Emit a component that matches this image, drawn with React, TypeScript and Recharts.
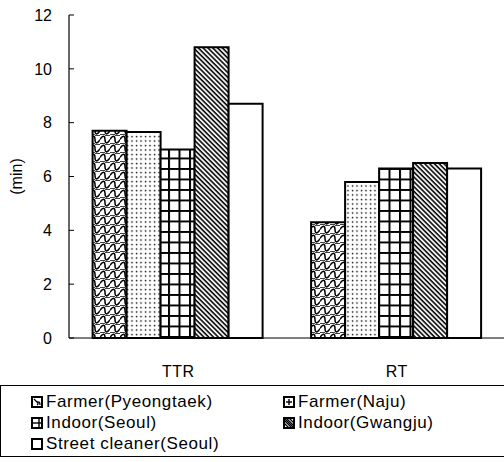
import React from "react";
import { BarChart, Bar, XAxis, YAxis, Legend } from "recharts";

// Measured times (min) per group
const categories = ["TTR", "RT"];
const farmerPyeongtaek = [7.7, 4.3];
const farmerNaju = [7.65, 5.8];
const indoorSeoul = [7.0, 6.3];
const indoorGwangju = [10.8, 6.5];
const streetCleanerSeoul = [8.7, 6.3];
const yTicks = [0, 2, 4, 6, 8, 10, 12];

const seriesInfo = [
  { key: "farmerPyeongtaek", name: "Farmer(Pyeongtaek)", fill: "url(#pWeave)" },
  { key: "farmerNaju", name: "Farmer(Naju)", fill: "url(#pDots)" },
  { key: "indoorSeoul", name: "Indoor(Seoul)", fill: "url(#pGrid)" },
  { key: "indoorGwangju", name: "Indoor(Gwangju)", fill: "url(#pHatch)" },
  { key: "streetCleanerSeoul", name: "Street cleaner(Seoul)", fill: "#fff" },
];

const data = categories.map((c, i) => ({
  category: c,
  farmerPyeongtaek: farmerPyeongtaek[i],
  farmerNaju: farmerNaju[i],
  indoorSeoul: indoorSeoul[i],
  indoorGwangju: indoorGwangju[i],
  streetCleanerSeoul: streetCleanerSeoul[i],
}));

const FONT = "'Liberation Sans', Arial, Helvetica, sans-serif";

const YTick = (props: any) => {
  const { x, y, payload } = props;
  return (
    <g>
      <line x1={x} x2={x + 5} y1={y} y2={y} stroke="#000" strokeWidth={1} />
      <text x={x - 17} y={y} dy="0.36em" textAnchor="end" fontSize={16} fontFamily={FONT} fill="#000">
        {payload.value}
      </text>
    </g>
  );
};

const XTick = (props: any) => {
  const { x, y, payload } = props;
  return (
    <text x={x} y={y + 39} textAnchor="middle" fontSize={16} fontFamily={FONT} fill="#000" letterSpacing={0.5}>
      {payload.value}
    </text>
  );
};

// Small legend swatches, one glyph per series
const LegendIcon = ({ index }: { index: number }) => {
  const marks: Record<number, React.ReactNode> = {
    0: <path d="M3,3 L6,6 Q8,8 6,9 M6,6 Q9,5 9,9" fill="none" stroke="#000" strokeWidth={1.3} />,
    1: (
      <g fill="#000">
        <rect x={5.3} y={3} width={1.4} height={6} />
        <rect x={3} y={5.3} width={6} height={1.4} />
      </g>
    ),
    2: (
      <g stroke="#000" strokeWidth={1.4}>
        <line x1={1} y1={6} x2={11} y2={6} />
        <line x1={8} y1={1} x2={8} y2={11} />
      </g>
    ),
    3: (
      <g stroke="#000" strokeWidth={1.2}>
        <line x1={1} y1={3} x2={9} y2={11} />
        <line x1={1} y1={6} x2={6} y2={11} />
        <line x1={3} y1={1} x2={11} y2={9} />
        <line x1={6} y1={1} x2={11} y2={6} />
        <line x1={1} y1={1} x2={11} y2={11} />
      </g>
    ),
  };
  return (
    <svg width={12} height={12} style={{ marginRight: 3, flex: "none" }}>
      <rect x={1} y={1} width={10} height={10} fill="#fff" stroke="#000" strokeWidth={2} />
      {marks[index]}
    </svg>
  );
};

const legendPos = [
  { left: 30, top: 16 },
  { left: 282, top: 16 },
  { left: 30, top: 37 },
  { left: 282, top: 37 },
  { left: 30, top: 58 },
];

const LegendBox = () => (
  <div
    style={{
      position: "relative",
      width: 504,
      height: 72,
      borderTop: "1px solid #000",
      borderBottom: "1px solid #000",
      borderLeft: "1px solid #000",
      boxSizing: "border-box",
      fontFamily: FONT,
    }}
  >
    {seriesInfo.map((s, i) => (
      <div
        key={s.key}
        style={{
          position: "absolute",
          left: legendPos[i].left,
          top: legendPos[i].top - 10,
          height: 20,
          display: "flex",
          alignItems: "center",
          whiteSpace: "nowrap",
        }}
      >
        <LegendIcon index={i} />
        <span style={{ fontSize: 17, letterSpacing: 0.6, color: "#000" }}>{s.name}</span>
      </div>
    ))}
  </div>
);

export default function App() {
  return (
    <div style={{ width: 504, height: 462, background: "#fff" }}>
      <style>{`body{margin:0;background:#fff}`}</style>
      <BarChart
        width={504}
        height={462}
        data={data}
        margin={{ top: 15, right: -2, bottom: 0, left: 0 }}
        barCategoryGap="10.8%"
        barGap={0}
      >
        <defs>
          <pattern id="pWeave" width="10" height="9" patternUnits="userSpaceOnUse">
            <rect width="10" height="9" fill="#fff" />
            <path d="M0,4.5 C2.5,0 5,0 5,4.5 C5,9 7.5,9 10,4.5" fill="none" stroke="#000" strokeWidth="1.5" />
            <path d="M5,0 L10,0 M0,9 L5,9" fill="none" stroke="#000" strokeWidth="1.4" />
          </pattern>
          <pattern id="pDots" width="4.5" height="4.5" patternUnits="userSpaceOnUse">
            <rect width="4.5" height="4.5" fill="#fff" />
            <circle cx="1.5" cy="1.5" r="0.8" fill="#000" />
          </pattern>
          <pattern id="pGrid" width="10.5" height="10.5" patternUnits="userSpaceOnUse">
            <rect width="10.5" height="10.5" fill="#fff" />
            <path d="M1,0 V10.5 M0,1 H10.5" stroke="#000" strokeWidth="2" />
          </pattern>
          <pattern id="pHatch" width="3.4" height="3.4" patternUnits="userSpaceOnUse" patternTransform="rotate(-45)">
            <rect width="3.4" height="3.4" fill="#fff" />
            <line x1="1" y1="0" x2="1" y2="3.4" stroke="#000" strokeWidth="1.6" />
          </pattern>
        </defs>
        <XAxis
          dataKey="category"
          axisLine={{ stroke: "#000", strokeWidth: 1.2 }}
          tickLine={false}
          tickSize={0}
          tickMargin={0}
          height={47}
          tick={<XTick />}
        />
        <YAxis
          domain={[0, 12]}
          ticks={yTicks}
          width={69}
          axisLine={{ stroke: "#000", strokeWidth: 1.2 }}
          tickLine={false}
          tickSize={0}
          tickMargin={0}
          tick={<YTick />}
          label={{
            value: "(min)",
            angle: -90,
            position: "insideLeft",
            offset: 16,
            style: { fontSize: 16, fontFamily: FONT, fill: "#000", textAnchor: "middle" },
          }}
        />
        <Legend verticalAlign="bottom" height={77} content={<LegendBox />} wrapperStyle={{ left: 0, width: 504 }} />
        {seriesInfo.map((s) => (
          <Bar
            key={s.key}
            dataKey={s.key}
            name={s.name}
            fill={s.fill}
            stroke="#000"
            strokeWidth={2}
            isAnimationActive={false}
          />
        ))}
      </BarChart>
    </div>
  );
}
